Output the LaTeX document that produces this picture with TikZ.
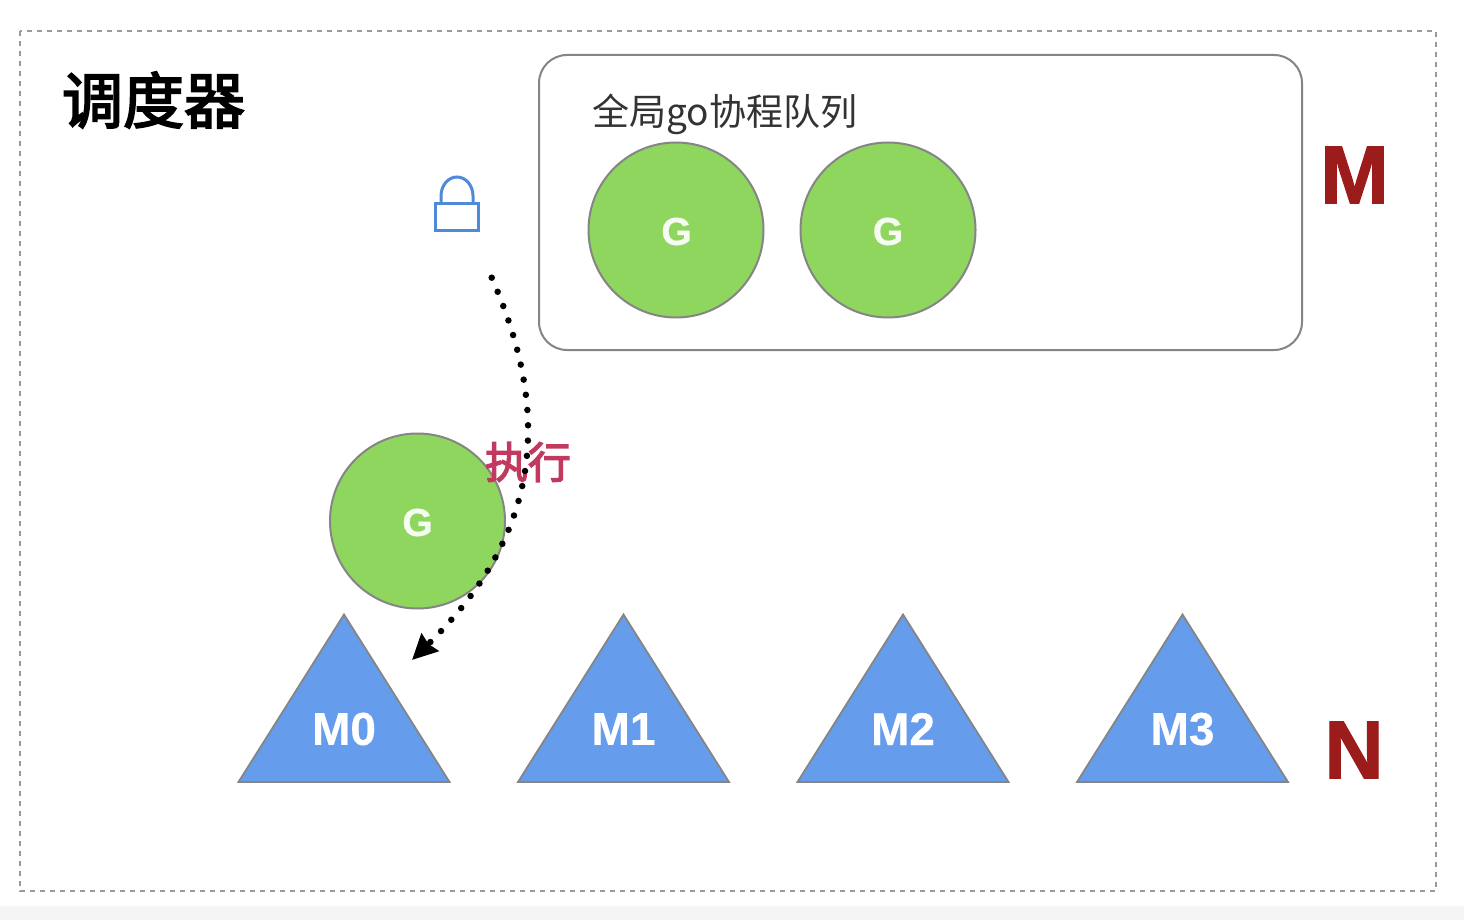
\documentclass[tikz,border=0pt]{standalone}
\usepackage{fontspec}
\setmainfont{Liberation Sans}
\newfontfamily\cjk{Noto Sans CJK SC}
\newfontfamily\cjkmed[FakeBold=3]{Noto Sans CJK SC}
\newfontfamily\heavy[FakeBold=0.5]{Liberation Sans Bold}
\newfontfamily\bigheavy[FakeBold=1.5]{Liberation Sans Bold}
\usetikzlibrary{arrows.meta}
\definecolor{gfill}{HTML}{8FD65F}
\definecolor{mfill}{HTML}{659CEB}
\definecolor{edgegray}{HTML}{858585}
\definecolor{framegray}{HTML}{9A9A9A}
\definecolor{bigred}{HTML}{9C1B1B}
\definecolor{pinkred}{HTML}{C2395F}
\definecolor{lockblue}{HTML}{4F8AD8}
\newcommand{\fs}[1]{\fontsize{#1}{#1}\selectfont}
\tikzset{
  gcircle/.style={circle,draw=edgegray,line width=2pt,fill=gfill,minimum size=175pt,inner sep=0pt},
  gtext/.style={inner sep=0pt,anchor=center,text=white!92!gfill,font=\heavy\fs{39}},
  mtri/.style={draw=edgegray,line width=1.8pt,fill=mfill,line join=miter},
  mlabel/.style={text=white,font=\heavy\fs{46},inner sep=0pt,anchor=center},
  biglabel/.style={text=bigred,font=\bigheavy\fs{82},inner sep=0pt,anchor=center},
  dotline/.style={line width=6.5pt,line cap=round,dash pattern=on 0pt off 15.3pt,-{Stealth[length=25pt,width=24pt,inset=2pt]}},
}
\begin{document}
\begin{tikzpicture}[x=1pt,y=-1pt]
\useasboundingbox (0,0) rectangle (1464,920);
\fill[white] (0,0) rectangle (1464,920);
\fill[black!4] (0,906) rectangle (1464,920);
\draw[framegray,line width=2.4pt,dash pattern=on 5pt off 5pt] (20,31) rectangle (1436,891);
\node[inner sep=0pt,anchor=center] (title) at (153.5,100) {\cjkmed\fs{61}调度器};
\draw[edgegray,line width=2pt,rounded corners=28pt] (539,55) rectangle (1302,350);
\node[inner sep=0pt,anchor=center,text=black!80] (qlabel) at (725,114) {\cjk\fs{37}全局go协程队列};
\node[gcircle] (g1) at (676,230) {};
\node[gcircle] (g2) at (888,230) {};
\node[gcircle] (g3) at (417.5,521) {};
\node[gtext] (gt1) at (676.5,231.5) {G};
\node[gtext] (gt2) at (888,231.5) {G};
\node[gtext] (gt3) at (417.5,522.5) {G};
\draw[lockblue,line width=3pt] (435.5,203.5) rectangle (478.5,230);
\draw[lockblue,line width=3pt] (441,203.5) -- (441,196) arc[start angle=180,end angle=0,x radius=16,y radius=-19] -- (473,203.5);
\foreach \x/\n in {344/0,623.5/1,903/2,1182.5/3}{
  \draw[mtri] (\x,614.5) -- (\x+105.5,782) -- (\x-105.5,782) -- cycle;
  \node[mlabel] (m\n) at (\x,729) {M\n};
}
\node[inner sep=0pt,anchor=center,text=pinkred] (exec) at (528,462) {\cjkmed\fs{43}执行};
\coordinate (dotstart) at (491.7,277.7);
\coordinate (dotend) at (412,660);
\draw[black,dotline] (dotstart) .. controls (550,410) and (545,530) .. (dotend);
\node[biglabel] (bigm) at (1354.5,175) {M};
\node[biglabel] (bign) at (1354,750) {N};
\end{tikzpicture}
\end{document}
